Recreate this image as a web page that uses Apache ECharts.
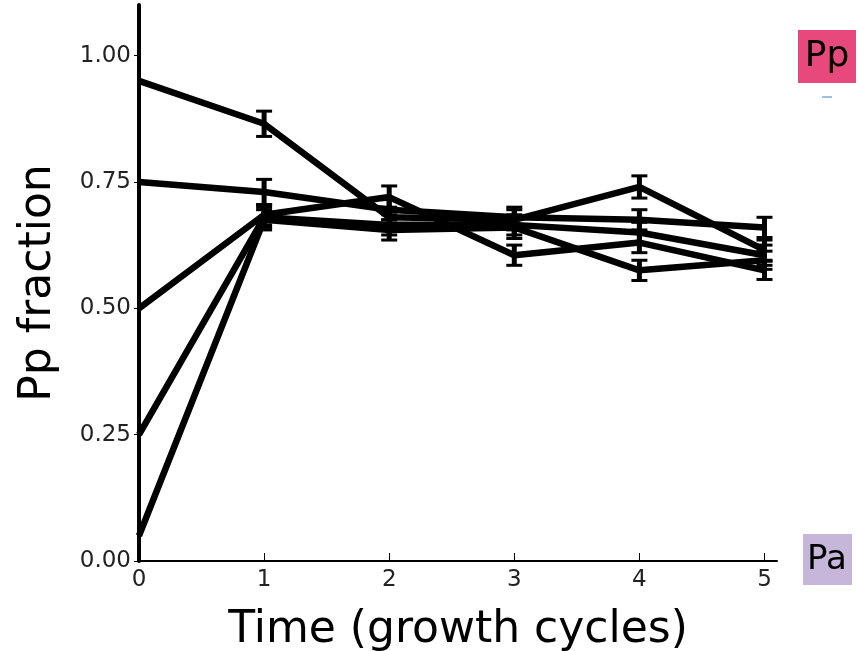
<!DOCTYPE html>
<html>
<head>
<meta charset="utf-8">
<script src="https://cdn.jsdelivr.net/npm/echarts@6/dist/echarts.min.js"></script>
<style>html,body{margin:0;padding:0;background:#fff}#c{width:866px;height:651px}</style>
</head>
<body>
<div id="c"></div>
<script>
// ---- data ----
var times = [0, 1, 2, 3, 4, 5];
var xTicks = [0, 1, 2, 3, 4, 5];
var yTicks = [0, 0.25, 0.5, 0.75, 1.0];
var seriesA = [0.95, 0.865, 0.68, 0.675, 0.74, 0.615];
var seriesB = [0.75, 0.73, 0.695, 0.68, 0.675, 0.66];
var seriesC = [0.50, 0.685, 0.72, 0.605, 0.63, 0.575];
var seriesD = [0.25, 0.68, 0.665, 0.665, 0.65, 0.605];
var seriesE = [0.05, 0.675, 0.655, 0.66, 0.575, 0.595];
var errA = [0, 0.025, 0.02, 0.02, 0.022, 0.02];
var errB = [0, 0.025, 0.02, 0.02, 0.02, 0.02];
var errC = [0, 0.02, 0.022, 0.02, 0.02, 0.018];
var errD = [0, 0.02, 0.02, 0.02, 0.02, 0.02];
var errE = [0, 0.02, 0.02, 0.022, 0.02, 0.018];

var allSeries = [seriesA, seriesB, seriesC, seriesD, seriesE];
var allErr = [errA, errB, errC, errD, errE];

var FONT = 'DejaVu Sans';
var series = [];
allSeries.forEach(function (vals, si) {
  series.push({
    type: 'line',
    data: times.map(function (t, i) { return [t, vals[i]]; }),
    symbol: 'none',
    lineStyle: { color: '#000', width: 6.5 },
    z: 2
  });
  series.push({
    type: 'custom',
    data: times.map(function (t, i) { return [t, vals[i] - allErr[si][i], vals[i] + allErr[si][i]]; })
      .filter(function (d, i) { return allErr[si][i] > 0; }),
    renderItem: function (params, api) {
      var lo = api.coord([api.value(0), api.value(1)]);
      var hi = api.coord([api.value(0), api.value(2)]);
      var hw = 8;
      var st = { stroke: '#000', lineWidth: 5 };
      var cs = { stroke: '#000', lineWidth: 3 };
      return {
        type: 'group',
        children: [
          { type: 'line', shape: { x1: lo[0], y1: lo[1], x2: hi[0], y2: hi[1] }, style: st },
          { type: 'line', shape: { x1: lo[0] - hw, y1: lo[1], x2: lo[0] + hw, y2: lo[1] }, style: cs },
          { type: 'line', shape: { x1: hi[0] - hw, y1: hi[1], x2: hi[0] + hw, y2: hi[1] }, style: cs }
        ]
      };
    },
    z: 3
  });
});

var chart = echarts.init(document.getElementById('c'), null, { renderer: 'canvas' });
chart.setOption({
  animation: false,
  backgroundColor: '#fff',
  grid: { left: 139, right: 89, top: 5, bottom: 90, containLabel: false, outerBoundsMode: 'none' },
  xAxis: {
    type: 'value', min: 0, max: 5.1,
    name: 'Time (growth cycles)', nameLocation: 'middle', nameGap: 48,
    nameTextStyle: { fontFamily: FONT, fontSize: 44, color: '#000' },
    axisLine: { show: true, lineStyle: { color: '#000', width: 2 } },
    axisTick: { show: true, inside: true, length: 8, lineStyle: { color: '#000', width: 1 }, customValues: xTicks },
    axisLabel: { fontFamily: FONT, fontSize: 23, color: '#222', margin: 8, customValues: xTicks },
    splitLine: { show: false }
  },
  yAxis: {
    type: 'value', min: 0, max: 1.1,
    name: 'Pp fraction', nameLocation: 'middle', nameGap: 78,
    nameTextStyle: { fontFamily: FONT, fontSize: 44, color: '#000' },
    axisLine: { show: true, lineStyle: { color: '#000', width: 4 } },
    axisTick: { show: true, inside: false, length: 5, lineStyle: { color: '#000', width: 1 }, customValues: yTicks },
    axisLabel: { fontFamily: FONT, fontSize: 23, color: '#222', margin: 8, customValues: yTicks,
      formatter: function (v) { return v.toFixed(2); } },
    splitLine: { show: false }
  },
  graphic: [
    { type: 'rect', shape: { x: 798, y: 30, width: 58, height: 53 }, style: { fill: '#e8497d' } },
    { type: 'text', x: 827, y: 57, style: { text: 'Pp', fontFamily: FONT, fontSize: 36, fill: '#000', align: 'center', verticalAlign: 'middle' } },
    { type: 'line', shape: { x1: 822, y1: 97, x2: 832, y2: 97 }, style: { stroke: '#9ec0e6', lineWidth: 2 } },
    { type: 'rect', shape: { x: 803, y: 534, width: 49, height: 51 }, style: { fill: '#c5b6da' } },
    { type: 'text', x: 827, y: 560, style: { text: 'Pa', fontFamily: FONT, fontSize: 34, fill: '#000', align: 'center', verticalAlign: 'middle' } }
  ],
  series: series
});
</script>
</body>
</html>
